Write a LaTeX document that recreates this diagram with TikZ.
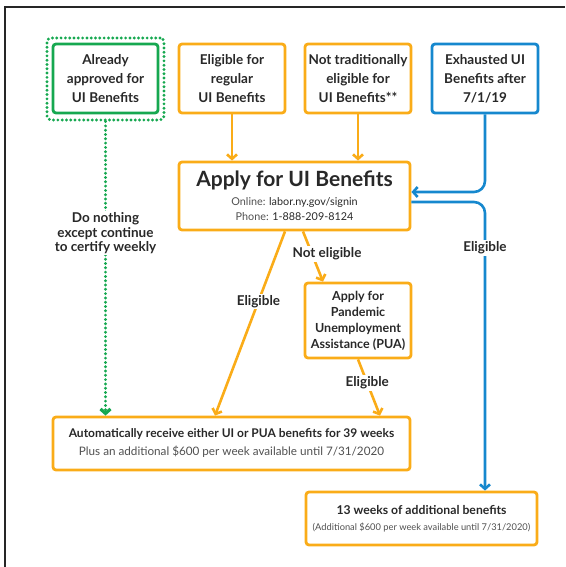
\documentclass[tikz,border=0pt]{standalone}
\usepackage{fontspec}
\setmainfont{Lato}
\usetikzlibrary{arrows.meta}
\definecolor{org}{RGB}{250,172,24}
\definecolor{blu}{RGB}{22,136,206}
\definecolor{grn}{RGB}{22,168,80}
\definecolor{txt}{RGB}{40,40,40}
\definecolor{sub}{RGB}{80,80,80}
\begin{document}
\begin{tikzpicture}[x=1pt,y=-1pt,
  box/.style={draw, line width=2.8pt, rounded corners=3pt, inner sep=0pt, align=center, text=txt,
    font=\bfseries\fontsize{13.5}{19}\selectfont},
  obox/.style={box, draw=org},
  bbox/.style={box, draw=blu},
  gbox/.style={box, draw=grn},
  gdots/.style={draw=grn, line width=3.2pt, line cap=round, dash pattern=on 0pt off 4.3pt, rounded corners=4pt, inner sep=0pt},
  lbl/.style={fill=white, text=txt, font=\bfseries\fontsize{13.5}{14.5}\selectfont, align=center, inner sep=1.5pt},
  tip/.style={-{Straight Barb[length=4.5pt,width=10pt]}},
  oarr/.style={tip, draw=org, line width=2.6pt},
  barr/.style={tip, draw=blu, line width=2.6pt, rounded corners=11pt},
  garr/.style={tip, draw=grn, line width=3.2pt, line cap=round, dash pattern=on 0pt off 4.3pt}
]
\useasboundingbox (0,0) rectangle (565,567);
\draw[line width=1.6pt, draw=black!85] (5,567) -- (5,7) -- (565,7);

\node[gbox, minimum width=105pt, minimum height=69pt] (green) at (105.5,78.5) {Already\\approved for\\UI Benefits};
\node[gdots, minimum width=117pt, minimum height=82pt] (gout) at (105.5,79) {};
\node[obox, minimum width=106pt, minimum height=69pt] (elig) at (232,78.5) {Eligible for\\regular\\UI Benefits};
\node[obox, minimum width=106pt, minimum height=69pt] (nottrad) at (358,78.5) {Not traditionally\\eligible for\\UI Benefits**};
\node[bbox, minimum width=106pt, minimum height=69pt] (exh) at (485,78.5) {Exhausted UI\\Benefits after\\7/1/19};

\node[obox, minimum width=231pt, minimum height=68pt, font=\mdseries\fontsize{10.8}{15.5}\selectfont] (apply) at (294.5,196)
  {{\bfseries\fontsize{21}{24}\selectfont Apply for UI Benefits}\\[3pt]
   {\color{sub}Online:} labor.ny.gov/signin\\
   {\color{sub}Phone:} 1-888-209-8124};

\node[obox, minimum width=106pt, minimum height=75pt, font=\bfseries\fontsize{12.5}{16}\selectfont] (pua) at (358,320.5)
  {Apply for\\Pandemic\\Unemployment\\Assistance (PUA)};

\node[obox, minimum width=357pt, minimum height=53pt, font=\bfseries\fontsize{12}{18}\selectfont] (auto) at (231.5,443.5)
  {Automatically receive either UI or PUA benefits for 39 weeks\\
   {\mdseries\color{sub}\fontsize{11.7}{18}\selectfont Plus an additional \$600 per week available until 7/31/2020}};

\node[obox, minimum width=231pt, minimum height=53pt, font=\bfseries\fontsize{12.2}{16}\selectfont] (weeks) at (421.5,518.5)
  {13 weeks of additional benefits\\
   {\mdseries\color{sub}\fontsize{9.3}{14}\selectfont (Additional \$600 per week available until 7/31/2020)}};

\draw[oarr] (elig.south) -- (elig.south |- apply.north);
\draw[oarr] (nottrad.south) -- (nottrad.south |- apply.north);
\draw[barr] (exh.south) |- ([yshift=4pt]apply.east);
\draw[barr] ([yshift=-6pt]apply.east) -| (exh.south |- weeks.north);
\node[lbl] (lblue) at (485,248) {Eligible};

\draw[oarr] ([xshift=-9.5pt]apply.south) -- node[lbl, pos=0.38] (le1) {Eligible} ([xshift=-16.5pt]auto.north);
\draw[oarr] ([xshift=8.5pt]apply.south) -- node[lbl, pos=0.45, xshift=15pt] (lne) {Not eligible} ([xshift=-35pt]pua.north);
\draw[oarr] (pua.south) -- node[lbl, pos=0.42] (le2) {Eligible} ([xshift=148.5pt]auto.north);

\draw[garr] (gout.south) -- node[lbl, pos=0.38] (lgreen) {Do nothing\\except continue\\to certify weekly} (gout.south |- auto.north);
\end{tikzpicture}
\end{document}
